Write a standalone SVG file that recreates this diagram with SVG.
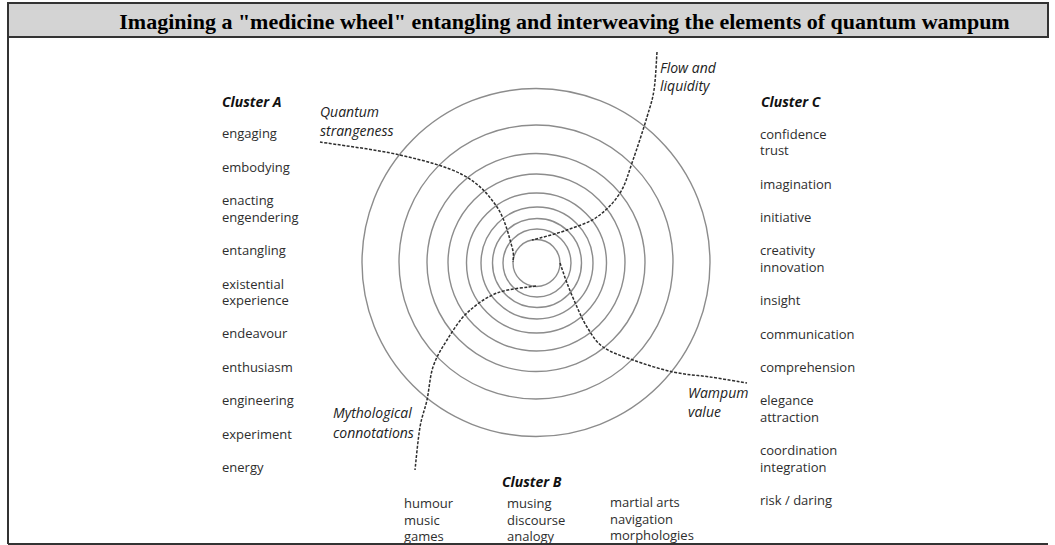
<svg xmlns="http://www.w3.org/2000/svg" width="1055" height="545" viewBox="0 0 1055 545">
<style>
.frame{fill:none;stroke:#333;stroke-width:2}
.title{font-family:"Liberation Serif","Times New Roman",serif;font-weight:bold;font-size:22px;fill:#000}
.ring{fill:none;stroke:#8c8c8c;stroke-width:1.4}
.arm{fill:none;stroke:#2e2e2e;stroke-width:1.5;stroke-dasharray:3 1.5}
.item{font-family:"Open Sans","Noto Sans",sans-serif;font-size:13px;fill:#2e2e2e}
.head{font-family:"Open Sans","Noto Sans",sans-serif;font-size:14px;font-weight:bold;font-style:italic;fill:#111}
.lab{font-family:"Open Sans","Noto Sans",sans-serif;font-size:14px;font-style:italic;fill:#222}
</style>
<rect x="0" y="0" width="1055" height="545" fill="#fff"/>
<g id="title">
<rect x="8" y="3" width="1040" height="34" fill="#d4d4d4" stroke="#333" stroke-width="2"/>
<text class="title" x="564.5" y="28.5" text-anchor="middle">Imagining a "medicine wheel" entangling and interweaving the elements of quantum wampum</text>
</g>
<g id="wheel">
<circle class="ring" cx="536" cy="262.5" r="174"/>
<circle class="ring" cx="536" cy="262" r="137"/>
<circle class="ring" cx="536" cy="262.5" r="109"/>
<circle class="ring" cx="536.5" cy="262.5" r="88.5"/>
<circle class="ring" cx="536.5" cy="263" r="70"/>
<circle class="ring" cx="537" cy="263" r="56"/>
<circle class="ring" cx="537" cy="263" r="44.5"/>
<circle class="ring" cx="537" cy="263" r="34"/>
<circle class="ring" cx="536.5" cy="263" r="23.5"/>
</g>
<g id="connectors">
<path class="arm" d="M320,142 C333.3,144.2 376.2,149.5 400,155 C423.8,160.5 446.8,166.3 463,175 C479.2,183.7 488.8,195 497,207 C505.2,219 509.3,237.8 512,247 C514.7,256.2 512.8,259.5 513,262"/>
<path class="arm" d="M657,52 C656.5,58.3 655.7,79.2 654,90 C652.3,100.8 650.5,105.3 647,117 C643.5,128.7 637.5,147.3 633,160 C628.5,172.7 626,183.5 620,193 C614,202.5 605.8,210.8 597,217 C588.2,223.2 576.5,226.5 567,230 C557.5,233.5 545.8,236.3 540,238 C534.2,239.7 533.3,239.7 532,240"/>
<path class="arm" d="M560,263 C561.2,266.3 564.2,275.7 567,283 C569.8,290.3 573.7,299.7 577,307 C580.3,314.3 582.7,320.3 587,327 C591.3,333.7 595.3,341.5 603,347 C610.7,352.5 621.3,355.8 633,360 C644.7,364.2 660.2,369.2 673,372 C685.8,374.8 697.7,375.2 710,377 C722.3,378.8 740.8,382 747,383"/>
<path class="arm" d="M536,286 C529.5,287.2 508.5,288.5 497,293 C485.5,297.5 475.3,305.2 467,313 C458.7,320.8 452.7,331 447,340 C441.3,349 436.3,357 433,367 C429.7,377 429.2,390 427,400 C424.8,410 422,415.3 420,427 C418,438.7 415.8,462.8 415,470"/>
</g>
<g id="label-quantum">
<text class="lab" x="320" y="117">Quantum</text>
<text class="lab" x="320" y="136">strangeness</text>
</g>
<g id="label-flow">
<text class="lab" x="660" y="73">Flow and</text>
<text class="lab" x="660" y="91">liquidity</text>
</g>
<g id="label-wampum">
<text class="lab" x="688" y="398">Wampum</text>
<text class="lab" x="688" y="417">value</text>
</g>
<g id="label-myth">
<text class="lab" x="333" y="418">Mythological</text>
<text class="lab" x="333" y="438">connotations</text>
</g>
<g id="cluster-a">
<text class="head" x="222" y="107">Cluster A</text>
<text class="item" x="222" y="138">engaging</text>
<text class="item" x="222" y="171.5">embodying</text>
<text class="item" x="222" y="205">enacting</text>
<text class="item" x="222" y="221.5">engendering</text>
<text class="item" x="222" y="255">entangling</text>
<text class="item" x="222" y="288.5">existential</text>
<text class="item" x="222" y="304.5">experience</text>
<text class="item" x="222" y="338">endeavour</text>
<text class="item" x="222" y="371.5">enthusiasm</text>
<text class="item" x="222" y="405">engineering</text>
<text class="item" x="222" y="438.5">experiment</text>
<text class="item" x="222" y="471.5">energy</text>
</g>
<g id="cluster-c">
<text class="head" x="761" y="107">Cluster C</text>
<text class="item" x="760" y="138.5">confidence</text>
<text class="item" x="760" y="154.5">trust</text>
<text class="item" x="760" y="188.5">imagination</text>
<text class="item" x="760" y="221.5">initiative</text>
<text class="item" x="760" y="255">creativity</text>
<text class="item" x="760" y="271.5">innovation</text>
<text class="item" x="760" y="305">insight</text>
<text class="item" x="760" y="338.5">communication</text>
<text class="item" x="760" y="371.5">comprehension</text>
<text class="item" x="760" y="405">elegance</text>
<text class="item" x="760" y="421.5">attraction</text>
<text class="item" x="760" y="455">coordination</text>
<text class="item" x="760" y="471.5">integration</text>
<text class="item" x="760" y="505">risk / daring</text>
</g>
<g id="cluster-b">
<text class="head" x="502" y="487">Cluster B</text>
<text class="item" x="404" y="508">humour</text>
<text class="item" x="404" y="524.5">music</text>
<text class="item" x="404" y="541">games</text>
<text class="item" x="507" y="508">musing</text>
<text class="item" x="507" y="524.5">discourse</text>
<text class="item" x="507" y="541">analogy</text>
<text class="item" x="610" y="507">martial arts</text>
<text class="item" x="610" y="523.5">navigation</text>
<text class="item" x="610" y="540">morphologies</text>
</g>
<g id="frame">
<line x1="8" y1="37" x2="8" y2="544" stroke="#333" stroke-width="2"/>
<line x1="8" y1="544" x2="1048" y2="544" stroke="#333" stroke-width="2"/>
</g>
</svg>
